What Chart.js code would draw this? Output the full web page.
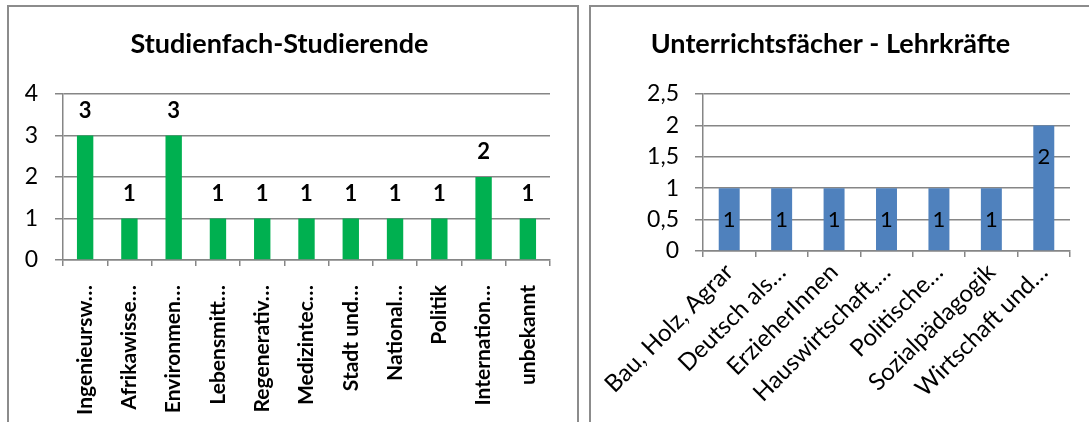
<!DOCTYPE html>
<html><head><meta charset="utf-8">
<script src="https://cdn.jsdelivr.net/npm/chart.js@4.4.1/dist/chart.umd.min.js"></script>
<style>
html,body{margin:0;padding:0;background:#fff;}
body{width:1089px;height:422px;overflow:hidden;position:relative;}
.box{position:absolute;border:2px solid #8c8c8c;box-sizing:border-box;}
#b1{left:7px;top:5px;width:572px;height:440px;}
#b2{left:589px;top:5px;width:540px;height:440px;}
canvas{position:absolute;}
#c1{left:9px;top:8px;}
#c2{left:591px;top:8px;}
</style></head>
<body>
<div class="box" id="b1"></div><div class="box" id="b2"></div>
<canvas id="c1" width="568" height="414"></canvas>
<canvas id="c2" width="498" height="414"></canvas>
<script>
// ---- data ----
const studyTitle = "Studienfach-Studierende";
const studyCategories = ["Ingenieursw…","Afrikawisse…","Environmen…","Lebensmitt…","Regenerativ…","Medizintec…","Stadt und…","National…","Politik","Internation…","unbekannt"];
const studyValues = [3,1,3,1,1,1,1,1,1,2,1];
const studyTickMax = 4;
const studyTickStep = 1;

const teachTitle = "Unterrichtsfächer - Lehrkräfte";
const teachCategories = ["Bau, Holz, Agrar","Deutsch als…","ErzieherInnen","Hauswirtschaft,…","Politische…","Sozialpädagogik","Wirtschaft und…"];
const teachValues = [1,1,1,1,1,1,2];
const teachTickMax = 2.5;
const teachTickStep = 0.5;

const FONT = "Lato, 'Open Sans', sans-serif";
const GRID = '#868686';

const valueLabels = {
  id: 'valueLabels',
  afterDatasetsDraw(chart, args, opts) {
    const ctx = chart.ctx;
    const meta = chart.getDatasetMeta(0);
    const data = chart.data.datasets[0].data;
    ctx.save();
    ctx.font = opts.font;
    ctx.fillStyle = '#000';
    ctx.textAlign = 'center';
    ctx.textBaseline = 'middle';
    meta.data.forEach((bar, i) => {
      ctx.fillText(String(data[i]), bar.x, bar.y + opts.offset);
    });
    ctx.restore();
  }
};

function makeChart(id, title, cats, vals, color, ymax, ystep, o) {
  return new Chart(document.getElementById(id), {
    type: 'bar',
    data: { labels: cats, datasets: [{ data: vals, backgroundColor: color, borderWidth: 0,
      categoryPercentage: 1, barPercentage: o.barPct }] },
    plugins: [valueLabels],
    options: {
      responsive: false, animation: false, devicePixelRatio: 1,
      layout: { padding: { left: 0, right: o.padRight, top: 0, bottom: 0 } },
      plugins: {
        legend: { display: false }, tooltip: { enabled: false },
        title: { display: true, text: title, color: '#000',
          font: { family: FONT, size: o.titleSize, weight: 'bold' },
          padding: { top: o.titleTop, bottom: o.titleBottom } },
        valueLabels: { font: o.labelFont, offset: o.labelOffset }
      },
      scales: {
        y: {
          min: 0, max: ymax,
          ticks: { stepSize: ystep, color: '#000', padding: o.yPad,
            font: { family: FONT, size: o.ySize },
            callback: v => String(v).replace('.', ',') },
          grid: { color: GRID, lineWidth: 1.5, tickLength: 8 },
          border: { color: GRID, width: 1.5 },
          afterFit: s => { s.width = o.yWidth; }
        },
        x: {
          offset: true,
          ticks: { color: '#000', autoSkip: false, minRotation: o.rot, maxRotation: o.rot,
            padding: o.xPad, font: { family: FONT, size: o.xSize, weight: o.xWeight } },
          grid: { offset: true, drawOnChartArea: false, drawTicks: true, tickLength: 6, color: GRID, lineWidth: 1.5 },
          border: { color: GRID, width: 1.5 },
          afterFit: s => { s.height = o.xHeight; }
        }
      }
    }
  });
}

makeChart('c1', studyTitle, studyCategories, studyValues, '#00B050', studyTickMax, studyTickStep, {
  barPct: 0.37, padRight: 27, titleSize: 27, titleTop: 20, titleBottom: 33.6,
  labelFont: "bold 22px " + FONT, labelOffset: -25,
  ySize: 23, yPad: 17, yWidth: 54, rot: 90, xPad: 19, xSize: 21, xWeight: 'bold', xHeight: 162
});

makeChart('c2', teachTitle, teachCategories, teachValues, '#4F81BD', teachTickMax, teachTickStep, {
  barPct: 0.4, padRight: 19, titleSize: 27, titleTop: 20, titleBottom: 33.6,
  labelFont: "22px " + FONT, labelOffset: 32,
  ySize: 23, yPad: 16, yWidth: 112, rot: 45, xPad: 1, xSize: 24, xWeight: 'normal', xHeight: 171
});
</script>
</body></html>
